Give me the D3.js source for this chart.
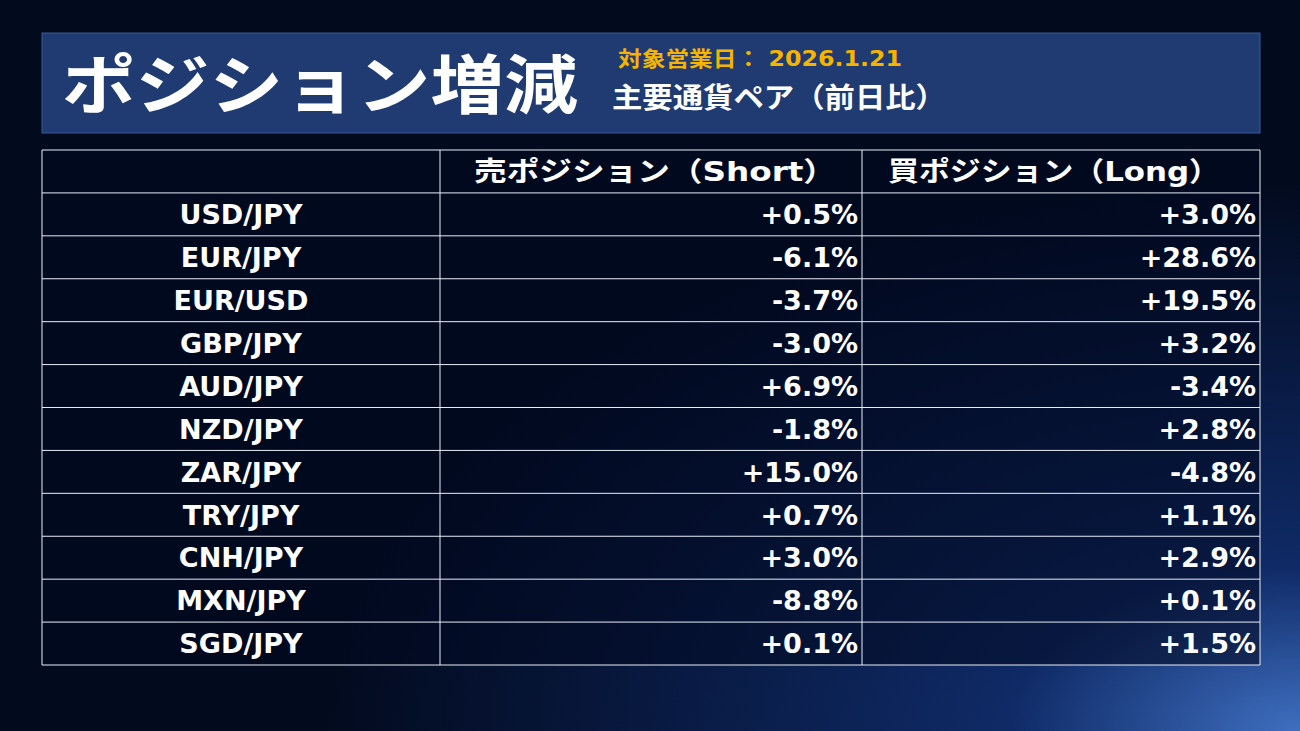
<!DOCTYPE html>
<html><head><meta charset="utf-8">
<script src="https://cdn.jsdelivr.net/npm/d3@7"></script>
<style>body{margin:0;background:#020a1e;}svg{display:block;}</style>
</head><body><svg id="chart" width="1300" height="731"></svg>
<script>
const pairs = ["USD/JPY","EUR/JPY","EUR/USD","GBP/JPY","AUD/JPY","NZD/JPY","ZAR/JPY","TRY/JPY","CNH/JPY","MXN/JPY","SGD/JPY"];
const shortValues = [0.5,-6.1,-3.7,-3.0,6.9,-1.8,15.0,0.7,3.0,-8.8,0.1];
const longValues = [3.0,28.6,19.5,3.2,-3.4,2.8,-4.8,1.1,2.9,0.1,1.5];
const headers = ["", "売ポジション（Short）", "買ポジション（Long）"];
const title = "ポジション増減";
const dateLabel = "対象営業日： 2026.1.21";
const subtitle = "主要通貨ペア（前日比）";

const font = "'DejaVu Sans','Noto Sans CJK JP',sans-serif";
const svg = d3.select("#chart");
const defs = svg.append("defs");
const bg = defs.append("radialGradient").attr("id","bg").attr("cx","100%").attr("cy","100%").attr("r","75%");
bg.append("stop").attr("offset","0%").attr("stop-color","#3f6fc0");
bg.append("stop").attr("offset","30%").attr("stop-color","#0f2a66");
bg.append("stop").attr("offset","100%").attr("stop-color","#020a1e");
svg.append("rect").attr("width",1300).attr("height",731).attr("fill","url(#bg)");

// title box
svg.append("rect").attr("x",42).attr("y",33).attr("width",1218).attr("height",100)
  .attr("fill","#1f3b72").attr("stroke","#3a5a94").attr("stroke-width",1);
svg.append("text").attr("x",62).attr("y",108).text(title)
  .attr("fill","#fff").attr("font-family",font).attr("font-weight",700).attr("font-size",64)
  .attr("textLength",516).attr("lengthAdjust","spacingAndGlyphs");
svg.append("text").attr("x",618).attr("y",66).text(dateLabel)
  .attr("fill","#f5b400").attr("font-family",font).attr("font-weight",700).attr("font-size",21)
  .attr("textLength",284).attr("lengthAdjust","spacingAndGlyphs");
svg.append("text").attr("x",612).attr("y",108).text(subtitle)
  .attr("fill","#fff").attr("font-family",font).attr("font-weight",700).attr("font-size",28)
  .attr("textLength",334).attr("lengthAdjust","spacingAndGlyphs");

// table
const fmt = v => (v >= 0 ? "+" : "") + v.toFixed(1) + "%";
const rows = ["header", ...pairs];
const y = d3.scaleBand().domain(rows).range([150, 665]);
const colEdges = [42, 440, 862, 1260];
const g = svg.append("g");
g.append("rect").attr("x",42).attr("y",150).attr("width",1218).attr("height",515)
  .attr("fill","#020a20").attr("fill-opacity",0.55);

rows.forEach(r => {
  g.append("line").attr("x1",42).attr("x2",1260).attr("y1",y(r)).attr("y2",y(r))
    .attr("stroke","#e8eef8").attr("stroke-width",1);
});
g.append("line").attr("x1",42).attr("x2",1260).attr("y1",665).attr("y2",665).attr("stroke","#e8eef8");
colEdges.forEach(x => g.append("line").attr("x1",x).attr("x2",x).attr("y1",150).attr("y2",665).attr("stroke","#e8eef8"));

const txt = (x, r, s, anchor) => g.append("text").attr("x",x).attr("y",y(r)+y.bandwidth()/2)
  .attr("dy","0.36em").attr("text-anchor",anchor).text(s)
  .attr("fill","#fff").attr("font-family",font).attr("font-weight",700).attr("font-size",27);

txt(474, "header", headers[1], "start").attr("textLength",362).attr("lengthAdjust","spacingAndGlyphs");
txt(888, "header", headers[2], "start").attr("textLength",332).attr("lengthAdjust","spacingAndGlyphs");
pairs.forEach((p, i) => {
  txt(241, p, p, "middle");
  txt(858, p, fmt(shortValues[i]), "end");
  txt(1256, p, fmt(longValues[i]), "end");
});
</script></body></html>
